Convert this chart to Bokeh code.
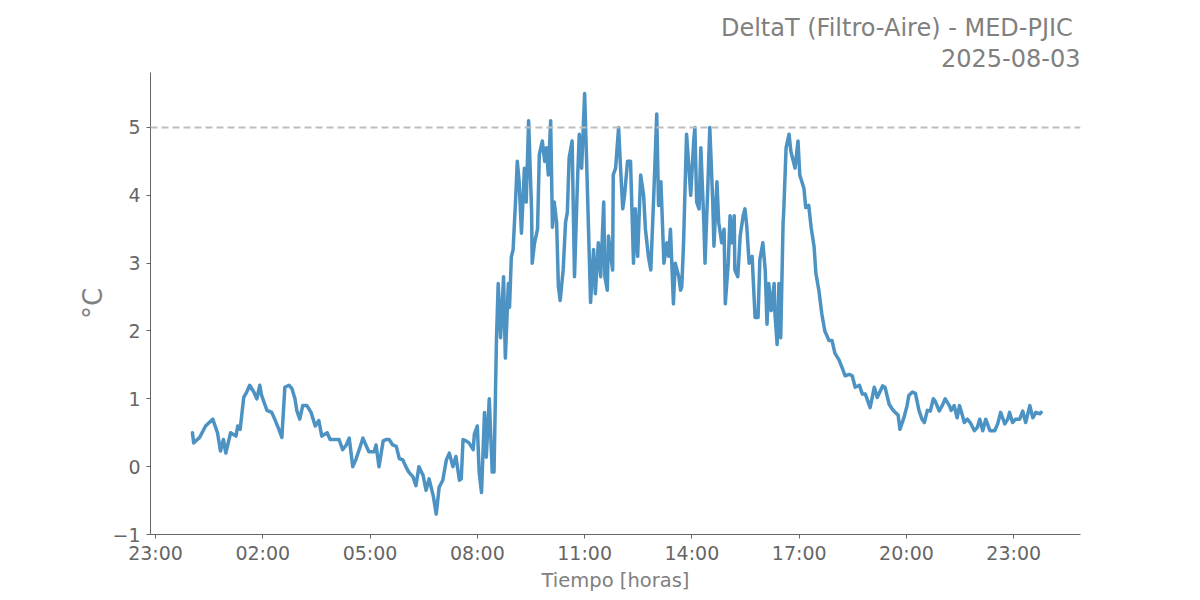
import pandas as pd
from bokeh.plotting import figure
from bokeh.models import Range1d, FixedTicker, DatetimeTickFormatter, Span, CustomJSTickFormatter, Title
from bokeh.embed import file_html
from bokeh.resources import INLINE

fecha = "2025-08-03"
estacion = "MED-PJIC"
umbral = 5.0

# minutes since 00:00 of the day, and DeltaT (°C)
minutos = [2, 4, 14, 24, 36, 44, 49, 54, 58, 66, 75, 78, 82, 88, 93, 98, 105, 110, 115, 118,
           127, 135, 140, 147, 152, 157, 164, 169, 174, 177, 182, 187, 194, 201, 208, 214, 219,
           228, 233, 241, 248, 254, 260, 265, 271, 276, 281, 288, 293, 298, 307, 310, 315, 322,
           327, 332, 338, 344, 349, 355, 360, 365, 372, 377, 382, 389, 394, 399, 406, 411, 416,
           422, 428, 433, 439, 444, 450, 453, 456, 461, 466, 473, 475, 480, 483, 487, 492, 495,
           500, 505, 508, 512, 515, 519, 524, 527, 532, 534, 537, 540, 544, 547, 550, 554, 559,
           562, 566, 571, 572, 576, 581, 584, 589, 593, 596, 599, 603, 606, 609, 613, 616, 619,
           624, 628, 631, 634, 639, 643, 648, 651, 655, 660, 663, 670, 675, 678, 683, 687, 692,
           694, 698, 700, 707, 708, 712, 717, 720, 724, 727, 732, 737, 742, 745, 749, 754, 759,
           762, 767, 771, 776, 781, 784, 788, 793, 798, 801, 804, 809, 812, 818, 821, 823, 826,
           831, 835, 838, 843, 845, 848, 852, 855, 860, 862, 867, 870, 875, 877, 882, 885, 890,
           894, 896, 901, 904, 907, 911, 912, 917, 921, 926, 929, 932, 936, 941, 946, 951, 954,
           959, 963, 966, 969, 973, 978, 979, 983, 986, 989, 993, 994, 998, 1003, 1006, 1013,
           1018, 1021, 1028, 1031, 1036, 1040, 1045, 1048, 1053, 1058, 1063, 1070, 1075, 1080,
           1087, 1092, 1097, 1104, 1109, 1114, 1121, 1126, 1131, 1139, 1146, 1151, 1160, 1164,
           1171, 1176, 1181, 1186, 1189, 1196, 1201, 1204, 1210, 1215, 1221, 1226, 1230, 1235,
           1240, 1245, 1248, 1255, 1260, 1265, 1272, 1275, 1280, 1285, 1289, 1294, 1297, 1302,
           1307, 1314, 1319, 1323, 1328, 1333, 1340, 1348, 1353, 1358, 1365, 1370, 1373, 1378,
           1383, 1390, 1395, 1400, 1407, 1412, 1417, 1424, 1426]
delta_t = [0.5, 0.35, 0.43, 0.6, 0.7, 0.5, 0.23, 0.4, 0.2, 0.5, 0.45, 0.6, 0.55, 1.02, 1.1, 1.2, 1.1, 1.0, 1.2, 1.05,
           0.83, 0.8, 0.7, 0.55, 0.43, 1.17, 1.2, 1.15, 1.0, 0.83, 0.7, 0.9, 0.9, 0.8, 0.6, 0.68, 0.45,
           0.5, 0.4, 0.4, 0.4, 0.25, 0.32, 0.42, 0.0, 0.1, 0.23, 0.42, 0.32, 0.22, 0.22, 0.32, 0.0, 0.38,
           0.4, 0.4, 0.32, 0.3, 0.12, 0.1, 0.0, -0.08, -0.15, -0.28, 0.0, -0.13, -0.35, -0.18, -0.43, -0.7, -0.3,
           -0.2, 0.1, 0.2, 0.0, 0.15, -0.2, -0.18, 0.4, 0.38, 0.35, 0.25, 0.48, 0.6, -0.08, -0.38, 0.8, 0.14,
           1.0, -0.08, -0.08, 1.86, 2.7, 1.9, 2.8, 1.6, 2.7, 2.35, 3.09, 3.2, 3.9, 4.5, 4.22, 3.44, 4.4,
           3.9, 5.1, 3.78, 3.0, 3.3, 3.5, 4.6, 4.8, 4.5, 4.7, 4.3, 5.1, 3.53, 3.9, 3.6, 2.65, 2.45,
           2.9, 3.6, 3.75, 4.55, 4.8, 2.8, 4.2, 4.9, 4.4, 5.5, 4.6, 2.42, 3.2, 2.55, 3.3, 2.8, 3.9,
           2.8, 2.6, 3.4, 2.9, 4.3, 4.4, 5.0, 4.45, 3.8, 4.0, 4.5, 4.5, 3.0, 3.8, 3.1, 4.3, 4.0,
           3.5, 3.1, 2.9, 4.0, 5.2, 3.85, 4.2, 3.0, 3.3, 3.1, 3.5, 2.4, 3.0, 2.8, 2.6, 2.65, 3.3,
           4.9, 4.4, 4.0, 4.8, 5.0, 3.9, 3.8, 4.7, 3.6, 3.0, 4.2, 5.0, 3.9, 3.25, 4.2, 3.6, 3.3,
           3.5, 2.4, 3.0, 3.7, 3.3, 3.7, 2.9, 2.8, 3.4, 3.7, 3.8, 3.55, 3.0, 3.1, 2.2, 2.2, 3.05,
           3.3, 2.9, 2.1, 2.7, 2.3, 2.7, 2.3, 1.8, 2.7, 1.9, 3.6, 3.75, 4.7, 4.9, 4.65, 4.4,
           4.8, 4.3, 4.1, 3.82, 3.85, 3.53, 3.24, 2.85, 2.6, 2.25, 2.0, 1.86, 1.86, 1.67,
           1.57, 1.46, 1.34, 1.36, 1.34, 1.17, 1.2, 1.07, 1.07, 0.87, 1.17, 1.02, 1.19, 1.17,
           0.92, 0.85, 0.8, 0.76, 0.55, 0.73, 0.9, 1.05, 1.1, 1.08, 0.83, 0.7, 0.65, 0.83,
           0.82, 1.0, 0.97, 0.82, 0.9, 1.0, 0.9, 0.83, 0.9, 0.72, 0.9, 0.75, 0.65, 0.7,
           0.65, 0.53, 0.58, 0.7, 0.53, 0.7, 0.53, 0.53, 0.63, 0.8, 0.63, 0.7, 0.8, 0.65,
           0.7, 0.7, 0.82, 0.65, 0.9, 0.72, 0.8, 0.78, 0.8]
y_ticks = [-1, 0, 1, 2, 3, 4, 5]

base = pd.Timestamp(fecha)
tiempo = base + pd.to_timedelta(minutos, unit="m")
x_tick_times = pd.date_range(base - pd.Timedelta(hours=1), periods=9, freq="3h")
x_ticks_ms = [int(t.value // 10**6) for t in x_tick_times]

FONT = "DejaVu Sans"

p = figure(width=1200, height=600, x_axis_type="datetime",
           output_backend="svg", toolbar_location=None,
           x_range=Range1d(base - pd.Timedelta(minutes=68.4), base + pd.Timedelta(hours=24, minutes=52)),
           y_range=Range1d(-1.0, 5.81),
           min_border_left=150, min_border_right=120, min_border_bottom=66, min_border_top=72)

t2 = Title(text=fecha, align="right", text_font=FONT, text_font_size="24px",
           text_font_style="normal", text_color="#808080", standoff=11)
t1 = Title(text="DeltaT (Filtro-Aire) - " + estacion + " ", align="right", text_font=FONT,
           text_font_size="24px", text_font_style="normal", text_color="#808080", standoff=0)
p.add_layout(t2, "above")
p.add_layout(t1, "above")

p.outline_line_color = None
p.xgrid.visible = False
p.ygrid.visible = False
p.background_fill_color = "white"
p.border_fill_color = "white"

span = Span(location=umbral, dimension="width", line_color="#bdbdbd",
            line_dash="7 4", line_width=2)
p.add_layout(span)

p.line(tiempo, delta_t, line_color="#1f77b4", line_alpha=0.8, line_width=3.5,
       line_join="round", line_cap="round")

for ax in (p.xaxis[0], p.yaxis[0]):
    ax.axis_line_color = "#666666"
    ax.axis_line_width = 1
    ax.major_tick_line_color = "#666666"
    ax.major_tick_in = 0
    ax.major_tick_out = 4
    ax.minor_tick_line_color = None
    ax.major_label_text_font = FONT
    ax.major_label_text_font_size = "19px"
    ax.major_label_text_color = "#666666"
    ax.axis_label_text_font = FONT
    ax.axis_label_text_font_style = "normal"
    ax.axis_label_text_color = "#808080"

p.xaxis.ticker = FixedTicker(ticks=x_ticks_ms)
p.xaxis.formatter = DatetimeTickFormatter(hours="%H:%M", days="%H:%M", hourmin="%H:%M",
                                          minutes="%H:%M", months="%H:%M", years="%H:%M")
p.xaxis.axis_label = "Tiempo [horas]"
p.xaxis.axis_label_text_font_size = "19.5px"
p.xaxis.major_label_standoff = 3
p.xaxis.axis_label_standoff = 2

p.yaxis.ticker = FixedTicker(ticks=y_ticks)
p.yaxis.formatter = CustomJSTickFormatter(code="return String(tick).replace('-', '\u2212');")
p.yaxis.axis_label = "°C"
p.yaxis.axis_label_text_font_size = "26px"
p.yaxis.major_label_standoff = 6
p.yaxis.axis_label_standoff = 1

open("out.html", "w").write(file_html(p, INLINE))
